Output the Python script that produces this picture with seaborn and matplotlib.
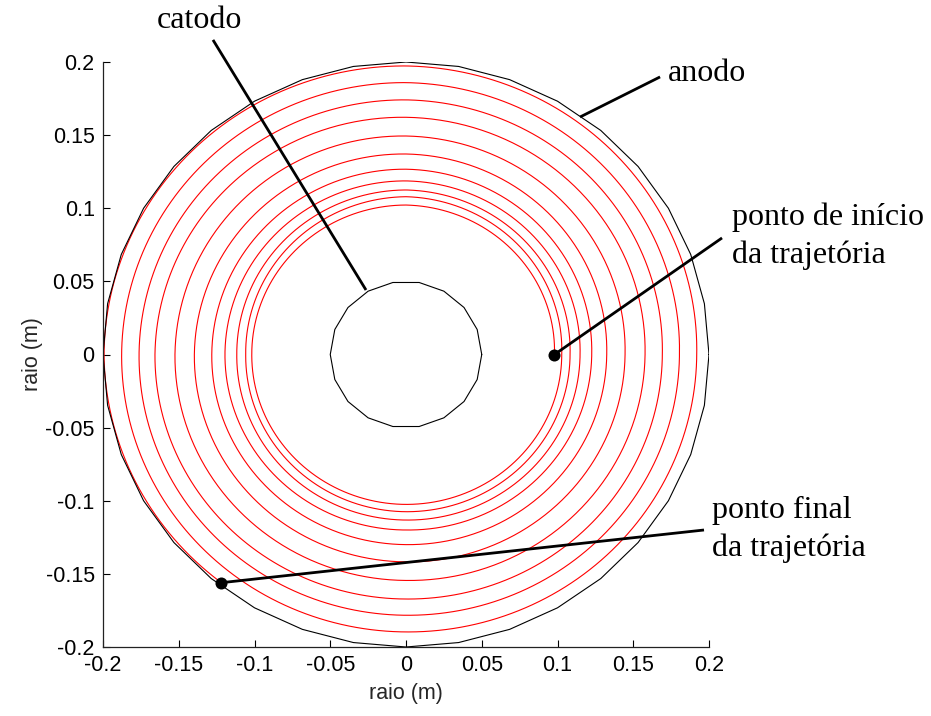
import numpy as np
import pandas as pd
import matplotlib
matplotlib.use("Agg")
import matplotlib.pyplot as plt
import seaborn as sns

# Electrode radii (m) and polygon resolution used for drawing them
cathode_radius = 0.05
anode_radius = 0.2
cathode_segments = 18
anode_segments = 36

# Electron trajectory: radius (m) measured at every quarter turn,
# starting on the +x axis and turning counter-clockwise
traj_radius = [
    0.0980, 0.1022, 0.1018, 0.1025,
    0.1028, 0.1079, 0.1058, 0.1075,
    0.1083, 0.1125, 0.1117, 0.1132,
    0.1149, 0.1187, 0.1195, 0.1200,
    0.1226, 0.1267, 0.1282, 0.1300,
    0.1325, 0.1371, 0.1397, 0.1418,
    0.1446, 0.1494, 0.1525, 0.1545,
    0.1578, 0.1622, 0.1657, 0.1672,
    0.1692, 0.1741, 0.1762, 0.1783,
    0.1805, 0.1859, 0.1877, 0.1897,
    0.1919, 0.1973, 0.1993,
]
end_angle_deg = 3600 + 232   # final point, on the anode
end_radius = 0.198

ticks = [-0.2, -0.15, -0.1, -0.05, 0, 0.05, 0.1, 0.15, 0.2]
tick_labels = ["-0.2", "-0.15", "-0.1", "-0.05", "0", "0.05", "0.1", "0.15", "0.2"]


def polygon(radius, n):
    t = np.linspace(0, 2 * np.pi, n + 1)
    return pd.DataFrame({"x": radius * np.cos(t), "y": radius * np.sin(t)})


knot_deg = np.concatenate([np.arange(len(traj_radius)) * 90.0, [end_angle_deg]])
knot_r = np.array(traj_radius + [end_radius])
theta_deg = np.arange(0, end_angle_deg + 0.25, 0.5)
r = np.interp(theta_deg, knot_deg, knot_r)
th = np.deg2rad(theta_deg)
traj = pd.DataFrame({"x": r * np.cos(th), "y": r * np.sin(th)})

start = (traj["x"].iloc[0], traj["y"].iloc[0])
end = (traj["x"].iloc[-1], traj["y"].iloc[-1])

sns.set_style("ticks")
plt.rcParams["font.family"] = ["Liberation Sans", "DejaVu Sans"]

fig = plt.figure(figsize=(9.31, 7.16), dpi=100)
ax = fig.add_axes([103 / 931, 1 - 647 / 716, 606 / 931, 585 / 716])

sns.lineplot(data=traj, x="x", y="y", sort=False, estimator=None, ax=ax,
             color="#ff0000", lw=0.8)
sns.lineplot(data=polygon(anode_radius, anode_segments), x="x", y="y",
             sort=False, estimator=None, ax=ax, color="black", lw=0.8)
sns.lineplot(data=polygon(cathode_radius, cathode_segments), x="x", y="y",
             sort=False, estimator=None, ax=ax, color="black", lw=0.8)

ax.set_xlim(-0.2, 0.2)
ax.set_ylim(-0.2, 0.2)
ax.set_xticks(ticks)
ax.set_xticklabels(tick_labels)
ax.set_yticks(ticks)
ax.set_yticklabels(tick_labels)
ax.tick_params(direction="in", length=5, width=0.8, labelsize=15.5,
               colors="black", pad=6)
for side in ("top", "right"):
    ax.spines[side].set_visible(False)
for side in ("left", "bottom"):
    ax.spines[side].set_color("#222222")
    ax.spines[side].set_linewidth(0.9)
ax.set_xlabel("raio (m)", fontsize=15.5, labelpad=5)
ax.set_ylabel("raio (m)", fontsize=15.5, labelpad=2)

# Callout lines and labels
serif = dict(family=["Liberation Serif", "DejaVu Serif"], fontsize=23,
             color="black", clip_on=False)
line_kw = dict(color="black", lw=2.0, clip_on=False, solid_capstyle="butt")

ax.plot([-0.1274, -0.0264], [0.2151, 0.0441], **line_kw)
ax.text(-0.1363, 0.2281, "catodo", ha="center", va="center", **serif)

ax.plot([0.1677, 0.1149], [0.1898, 0.1624], **line_kw)
ax.text(0.1729, 0.1919, "anodo", ha="left", va="center", **serif)

ax.plot([0.2086, start[0]], [0.0797, start[1]], **line_kw)
ax.text(0.2152, 0.0940, "ponto de início", ha="left", va="center", **serif)
ax.text(0.2152, 0.0681, "da trajetória", ha="left", va="center", **serif)

ax.plot([0.1967, end[0]], [-0.1200, end[1]], **line_kw)
ax.text(0.2020, -0.1064, "ponto final", ha="left", va="center", **serif)
ax.text(0.2020, -0.1324, "da trajetória", ha="left", va="center", **serif)

pts = pd.DataFrame({"x": [start[0], end[0]], "y": [start[1], end[1]]})
sns.scatterplot(data=pts, x="x", y="y", ax=ax, color="black", s=75,
                edgecolor="black", linewidth=0, zorder=5, clip_on=False)

fig.savefig("out.png", dpi=100, facecolor="white")
